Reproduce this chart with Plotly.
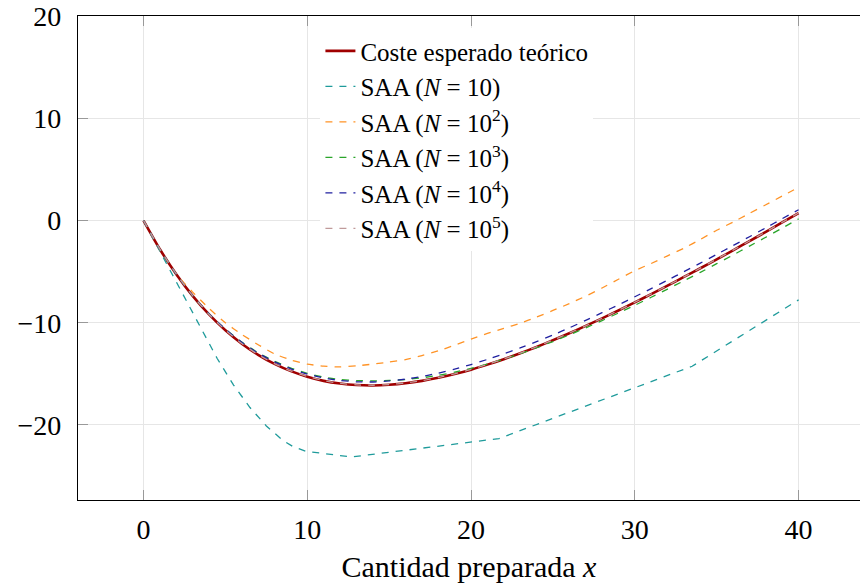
import plotly.graph_objects as go

# ---- data ----
x_grid = list(range(0, 41))

coste_teorico = [0, -2.81, -5.25, -7.37, -9.19, -10.74, -12.05, -13.14, -14.03, -14.74,
                 -15.28, -15.69, -15.95, -16.10, -16.14, -16.07, -15.92, -15.69, -15.39, -15.02,
                 -14.59, -14.10, -13.57, -12.99, -12.37, -11.72, -11.03, -10.31, -9.57, -8.80,
                 -8.01, -7.20, -6.37, -5.52, -4.67, -3.79, -2.91, -2.01, -1.11, -0.19, 0.73]

saa_n10_x = [0, 4.5, 5.5, 6.5, 7.5, 8.5, 9.1, 9.9, 12.7, 21.7, 33.5, 40]
saa_n10_y = [0, -13.5, -16.1, -18.3, -20.1, -21.5, -22.1, -22.58, -23.14, -21.34, -14.26, -7.76]

saa_n1e2 = [0, -2.85, -5.25, -7.0, -8.6, -10.0, -11.15, -12.15, -13.05, -13.65,
            -14.05, -14.25, -14.33, -14.22, -14.05, -13.85, -13.62, -13.22, -12.75, -12.2,
            -11.6, -11.05, -10.55, -10.05, -9.45, -8.8, -8.13, -7.4, -6.6, -5.75,
            -4.9, -4.2, -3.45, -2.7, -1.85, -0.95, -0.15, 0.7, 1.55, 2.4, 3.25]

saa_n1e3 = [0, -2.81, -5.25, -7.37, -9.14, -10.64, -11.90, -12.94, -13.78, -14.44,
            -14.95, -15.33, -15.55, -15.66, -15.69, -15.65, -15.56, -15.39, -15.15, -14.84,
            -14.47, -14.04, -13.57, -13.03, -12.45, -11.84, -11.19, -10.50, -9.79, -9.05,
            -8.29, -7.51, -6.71, -5.89, -5.07, -4.22, -3.37, -2.50, -1.63, -0.74, 0.16]

saa_n1e4 = [0, -2.81, -5.25, -7.34, -9.13, -10.64, -11.92, -12.98, -13.83, -14.51,
            -15.02, -15.41, -15.65, -15.78, -15.80, -15.70, -15.52, -15.26, -14.93, -14.54,
            -14.09, -13.59, -13.05, -12.47, -11.85, -11.20, -10.50, -9.77, -9.02, -8.25,
            -7.46, -6.66, -5.84, -5.00, -4.17, -3.31, -2.45, -1.58, -0.71, 0.18, 1.06]

saa_n1e5 = [0, -2.80, -5.23, -7.35, -9.17, -10.72, -12.03, -13.12, -14.01, -14.72,
            -15.26, -15.67, -15.93, -16.08, -16.12, -16.05, -15.90, -15.67, -15.37, -15.00,
            -14.57, -14.08, -13.55, -12.97, -12.35, -11.70, -11.01, -10.30, -9.56, -8.79,
            -8.00, -7.19, -6.36, -5.51, -4.66, -3.78, -2.90, -2.00, -1.10, -0.18, 0.74]

x_ticks = [0, 10, 20, 30, 40]
y_ticks = [-20, -10, 0, 10, 20]

FONT = "'Liberation Serif', 'Times New Roman', Times, serif"
DASH = "7px,7px"

fig = go.Figure()
fig.add_trace(go.Scatter(x=x_grid, y=coste_teorico, mode="lines", name="Coste esperado teórico",
                         line=dict(color="#a00000", width=2.6, shape="spline", smoothing=0.5),
                         legendgroup="a"))
fig.add_trace(go.Scatter(x=saa_n10_x, y=saa_n10_y, mode="lines", name="SAA (<i>N</i> = 10)",
                         line=dict(color="#1f9b9b", width=1.3, dash=DASH), legendgroup="b"))
fig.add_trace(go.Scatter(x=x_grid, y=saa_n1e2, mode="lines", name="SAA (<i>N</i> = 10<sup>2</sup>)",
                         line=dict(color="#ff9326", width=1.3, dash=DASH, shape="spline", smoothing=0.5),
                         legendgroup="c"))
fig.add_trace(go.Scatter(x=x_grid, y=saa_n1e3, mode="lines", name="SAA (<i>N</i> = 10<sup>3</sup>)",
                         line=dict(color="#2aa52a", width=1.3, dash=DASH, shape="spline", smoothing=0.5),
                         legendgroup="d"))
fig.add_trace(go.Scatter(x=x_grid, y=saa_n1e4, mode="lines", name="SAA (<i>N</i> = 10<sup>4</sup>)",
                         line=dict(color="#2020a0", width=1.3, dash=DASH, shape="spline", smoothing=0.5),
                         legendgroup="e"))
fig.add_trace(go.Scatter(x=x_grid, y=saa_n1e5, mode="lines", name="SAA (<i>N</i> = 10<sup>5</sup>)",
                         line=dict(color="#c09a9a", width=1.3, dash=DASH, shape="spline", smoothing=0.5),
                         legendgroup="f"))

axis_common = dict(
    showgrid=True, gridcolor="#e6e6e6", gridwidth=1.3,
    zeroline=False, showline=True, linecolor="black", linewidth=1.3,
    ticks="inside", ticklen=10, tickwidth=1.3, tickcolor="#999999",
    tickfont=dict(family=FONT, size=28, color="black"),
)

fig.update_layout(
    width=860, height=588,
    margin=dict(l=78, r=0, t=16, b=88),
    paper_bgcolor="white", plot_bgcolor="white",
    font=dict(family=FONT, color="black"),
    showlegend=True,
    legend=dict(x=0.31, y=0.975, xanchor="left", yanchor="top",
                bgcolor="white", borderwidth=0,
                font=dict(family=FONT, size=25, color="black"),
                tracegroupgap=0),
    xaxis=dict(range=[-4, 43.75], tickvals=x_ticks, mirror="ticks",
               ticklabelstandoff=4,
               title=dict(text="Cantidad preparada <i>x</i>", standoff=12,
                          font=dict(family=FONT, size=30, color="black")),
               **axis_common),
    yaxis=dict(range=[-27.35, 20.02], tickvals=y_ticks, ticklabelstandoff=10,
               **axis_common),
)

fig.write_html("out.html")
